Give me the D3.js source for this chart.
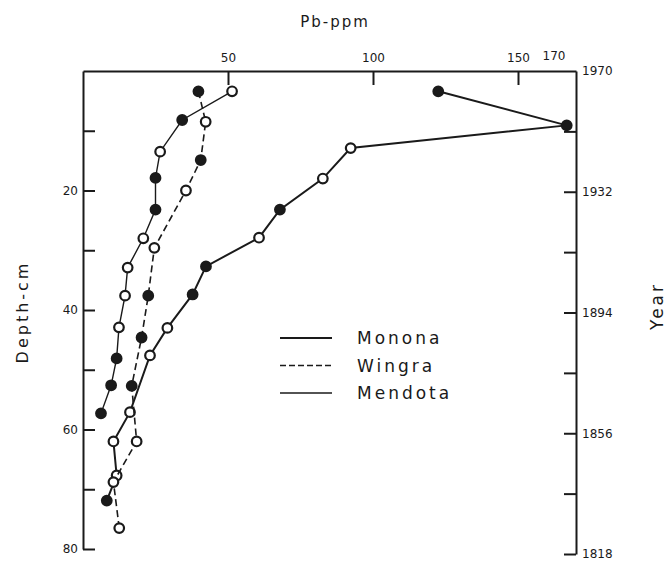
<!DOCTYPE html>
<html>
<head>
<meta charset="utf-8">
<script src="https://cdn.jsdelivr.net/npm/d3@7"></script>
<style>
  body { margin: 0; background: #fff; }
  text { font-family: "DejaVu Sans", sans-serif; fill: #1a1a1a; }
  .domain { stroke: #1a1a1a; stroke-width: 2; }
  .tick line { stroke: #1a1a1a; stroke-width: 2; }
</style>
</head>
<body>
<div id="chart"></div>
<script>

// Monona (solid line)
var mononaPb     = [122.5, 166.8, 92.3, 82.7, 67.9, 60.7, 42.4, 37.8, 29.1, 23.1, 16.2, 10.5, 11.6, 8.2]
var mononaDepth  = [3.4, 9.1, 12.9, 18.0, 23.2, 27.9, 32.7, 37.4, 43.0, 47.6, 57.1, 62.0, 67.7, 71.9]
var mononaFilled = [1, 1, 0, 0, 1, 0, 1, 1, 0, 0, 0, 0, 0, 1]

// Wingra (dashed line)
var wingraPb     = [39.8, 42.3, 40.6, 35.5, 24.6, 22.5, 20.2, 16.8, 18.5, 10.5, 12.5]
var wingraDepth  = [3.4, 8.5, 14.9, 20.0, 29.6, 37.6, 44.6, 52.7, 62.0, 68.8, 76.5]
var wingraFilled = [1, 0, 1, 0, 0, 1, 1, 1, 0, 0, 0]

// Mendota (thin line)
var mendotaPb     = [51.4, 34.2, 26.6, 25.0, 25.0, 20.8, 15.4, 14.5, 12.4, 11.6, 9.7, 6.2]
var mendotaDepth  = [3.4, 8.2, 13.5, 17.9, 23.2, 28.0, 32.9, 37.6, 42.9, 48.1, 52.6, 57.3]
var mendotaFilled = [0, 1, 0, 1, 1, 0, 0, 0, 0, 1, 1, 1]

// axis ticks
var pbTicks    = [50, 100, 150]
var depthTicks = [10, 20, 30, 40, 50, 60, 70, 80]
var depthLabels = [20, 40, 60, 80]
var yearTicks  = [1951, 1932, 1913, 1894, 1875, 1856, 1837, 1818]
var yearLabels = [1970, 1932, 1894, 1856, 1818]

var margin = { top: 71, right: 91, bottom: 12, left: 83 },
    width = 667 - margin.left - margin.right,
    height = 549 - margin.top;

var svg = d3.select("#chart")
    .append("svg")
    .attr("width", 667)
    .attr("height", 561)
    .append("g")
    .attr("transform", "translate(" + margin.left + "," + margin.top + ")")

var x = d3.scaleLinear().domain([0, 170]).range([0, width])
var y = d3.scaleLinear().domain([0, 80]).range([0, height])
var yr = d3.scaleLinear().domain([1970, 1818]).range([0, height + 5])

// top axis (Pb)
svg.append("g")
    .call(d3.axisTop(x).tickValues(pbTicks).tickSizeInner(-14).tickSizeOuter(0).tickPadding(9))
    .call(g => g.selectAll("text").style("font-size", "12px"))
svg.append("text")
    .attr("x", width - 22)
    .attr("y", -11)
    .attr("text-anchor", "middle")
    .style("font-size", "12px")
    .text("170")

// left axis (depth)
svg.append("g")
    .call(d3.axisLeft(y).tickValues(depthTicks).tickSizeInner(-12).tickSizeOuter(0).tickPadding(5)
        .tickFormat(function (d) { return depthLabels.indexOf(d) >= 0 ? d : ""; }))
    .call(g => g.selectAll("text").style("font-size", "12px"))

// right axis (year)
svg.append("g")
    .attr("transform", "translate(" + width + ",0)")
    .call(d3.axisRight(yr).tickValues(yearTicks).tickSizeInner(-12).tickSizeOuter(0).tickPadding(6)
        .tickFormat(function (d) { return yearLabels.indexOf(d) >= 0 ? d : ""; }))
    .call(g => g.selectAll("text").style("font-size", "12px"))
svg.append("text")
    .attr("x", width + 6)
    .attr("y", yr(1970) + 4)
    .style("font-size", "12px")
    .text("1970")

// axis titles
svg.append("text")
    .attr("x", 335 - margin.left)
    .attr("y", 27 - margin.top)
    .attr("text-anchor", "middle")
    .style("font-size", "15px")
    .style("letter-spacing", "2px")
    .text("Pb-ppm")

svg.append("text")
    .attr("transform", "translate(" + (28 - margin.left) + "," + (312 - margin.top) + ") rotate(-90)")
    .attr("text-anchor", "middle")
    .style("font-size", "16px")
    .style("letter-spacing", "3px")
    .text("Depth-cm")

svg.append("text")
    .attr("transform", "translate(" + (663 - margin.left) + "," + (306 - margin.top) + ") rotate(-90)")
    .attr("text-anchor", "middle")
    .style("font-size", "17px")
    .style("letter-spacing", "3px")
    .text("Year")

// series
var series = [
    { name: "Monona", pb: mononaPb, depth: mononaDepth, filled: mononaFilled, width: 2, dash: null },
    { name: "Wingra", pb: wingraPb, depth: wingraDepth, filled: wingraFilled, width: 1.6, dash: "7,4" },
    { name: "Mendota", pb: mendotaPb, depth: mendotaDepth, filled: mendotaFilled, width: 1.4, dash: null }
]

var line = d3.line()
    .x(function (d) { return x(d.pb); })
    .y(function (d) { return y(d.depth); })

series.forEach(function (s) {
    var pts = s.pb.map(function (v, i) { return { pb: v, depth: s.depth[i], filled: s.filled[i] }; })

    svg.append("path")
        .datum(pts)
        .attr("d", line)
        .attr("fill", "none")
        .attr("stroke", "#1a1a1a")
        .attr("stroke-width", s.width)
        .attr("stroke-dasharray", s.dash)

    svg.selectAll(null)
        .data(pts)
        .enter()
        .append("circle")
        .attr("cx", function (d) { return x(d.pb); })
        .attr("cy", function (d) { return y(d.depth); })
        .attr("r", 4.8)
        .attr("fill", function (d) { return d.filled ? "#1a1a1a" : "#fff"; })
        .attr("stroke", "#1a1a1a")
        .attr("stroke-width", 2.2)
})

// legend
var legend = svg.append("g")
    .attr("transform", "translate(" + (280 - margin.left) + "," + (338 - margin.top) + ")")

series.forEach(function (s, i) {
    var row = legend.append("g").attr("transform", "translate(0," + (i * 27.5) + ")")
    row.append("line")
        .attr("x1", 0).attr("x2", 52)
        .attr("y1", 0).attr("y2", 0)
        .attr("stroke", "#1a1a1a")
        .attr("stroke-width", s.width)
        .attr("stroke-dasharray", s.dash ? "6,3" : null)
    row.append("text")
        .attr("x", 77)
        .attr("y", 6)
        .style("font-size", "17px")
        .style("letter-spacing", "3px")
        .text(s.name)
})

</script>
</body>
</html>
